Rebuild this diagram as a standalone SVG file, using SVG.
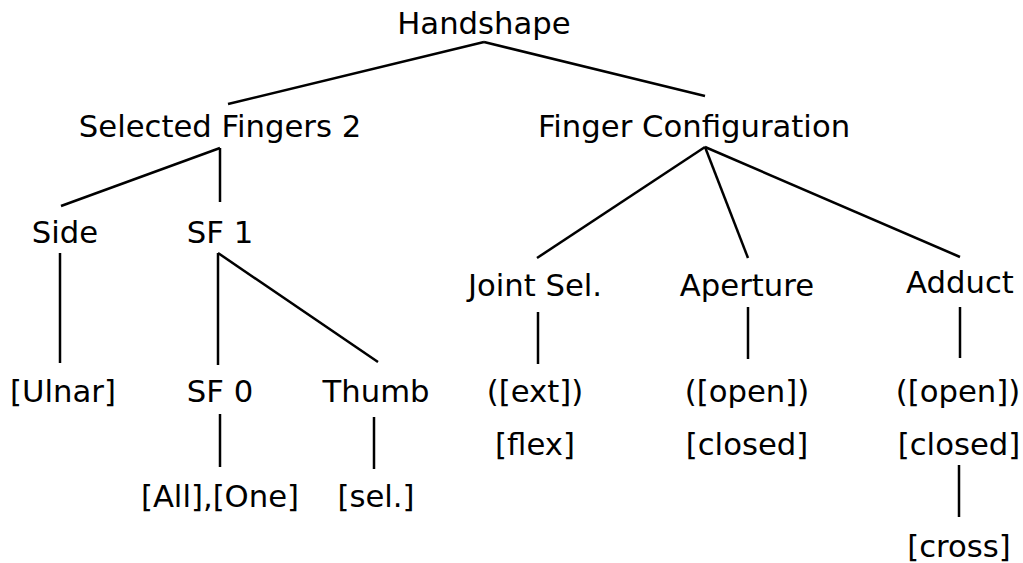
<svg xmlns="http://www.w3.org/2000/svg" width="1023" height="563" viewBox="0 0 1023 563">
<style>
text{font-family:"DejaVu Sans",sans-serif;font-size:30.7px;fill:#000;text-anchor:middle}
.c line{stroke:#000;stroke-width:2.5;stroke-linecap:butt}
</style>
<rect width="1023" height="563" fill="#fff"/>
<g class="c" id="connectors">
<line x1="484" y1="42" x2="228" y2="104"/>
<line x1="484" y1="42" x2="705" y2="96"/>
<line x1="220" y1="148" x2="61" y2="206"/>
<line x1="220" y1="148" x2="220" y2="202"/>
<line x1="60" y1="253" x2="60" y2="363"/>
<line x1="218" y1="253" x2="218" y2="365"/>
<line x1="218" y1="253" x2="378" y2="362"/>
<line x1="220" y1="414" x2="220" y2="467"/>
<line x1="374" y1="417" x2="374" y2="469"/>
<line x1="705" y1="147" x2="537" y2="258"/>
<line x1="705" y1="147" x2="748" y2="258"/>
<line x1="705" y1="147" x2="960" y2="257"/>
<line x1="538" y1="312" x2="538" y2="364"/>
<line x1="748" y1="307" x2="748" y2="359"/>
<line x1="960" y1="307" x2="960" y2="358"/>
<line x1="959" y1="465" x2="959" y2="517"/>
</g>
<g id="handshape"><text x="484" y="34">Handshape</text></g>
<g id="sf2"><text x="220" y="137">Selected Fingers 2</text></g>
<g id="fc"><text x="694" y="137">Finger Configuration</text></g>
<g id="side"><text x="65" y="243">Side</text></g>
<g id="sf1"><text x="220" y="243">SF 1</text></g>
<g id="joint"><text x="535" y="296">Joint Sel.</text></g>
<g id="aperture"><text x="747" y="296">Aperture</text></g>
<g id="adduct"><text x="960" y="293">Adduct</text></g>
<g id="ulnar"><text x="63" y="402">[Ulnar]</text></g>
<g id="sf0"><text x="220" y="402">SF 0</text></g>
<g id="thumb"><text x="376" y="402">Thumb</text></g>
<g id="joint-vals"><text x="535" y="402">([ext])</text><text x="535" y="455">[flex]</text></g>
<g id="aperture-vals"><text x="747" y="402">([open])</text><text x="747" y="455">[closed]</text></g>
<g id="adduct-vals"><text x="958" y="402">([open])</text><text x="959" y="455">[closed]</text></g>
<g id="allone"><text x="220" y="507">[All],[One]</text></g>
<g id="sel"><text x="376" y="507">[sel.]</text></g>
<g id="cross"><text x="959" y="557">[cross]</text></g>
</svg>
